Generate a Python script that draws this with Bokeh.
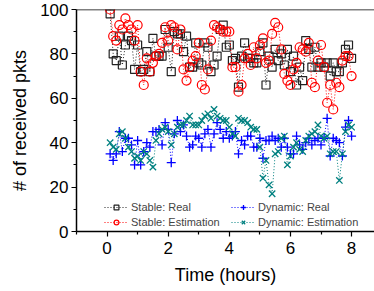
from bokeh.plotting import figure
from bokeh.models import Range1d, Span, Legend, LegendItem, FixedTicker
from bokeh.embed import file_html
from bokeh.resources import INLINE

time = [0.1, 0.2, 0.3, 0.4, 0.5, 0.6, 0.7, 0.8, 0.9, 1.0,
        1.1, 1.2, 1.3, 1.4, 1.5, 1.6, 1.7, 1.8, 1.9, 2.0,
        2.1, 2.2, 2.3, 2.4, 2.5, 2.6, 2.7, 2.8, 2.9, 3.0,
        3.1, 3.2, 3.3, 3.4, 3.5, 3.6, 3.7, 3.8, 3.9, 4.0,
        4.1, 4.2, 4.3, 4.4, 4.5, 4.6, 4.7, 4.8, 4.9, 5.0,
        5.1, 5.2, 5.3, 5.4, 5.5, 5.6, 5.7, 5.8, 5.9, 6.0,
        6.1, 6.2, 6.3, 6.4, 6.5, 6.6, 6.7, 6.8, 6.9, 7.0,
        7.1, 7.2, 7.3, 7.4, 7.5, 7.6, 7.7, 7.8, 7.9, 8.0]

stable_real = [98, 80, 77, 88, 75, 84, 88, 86, 73, 84,
               72, 73, 81, 72, 87, 79, 79, 79, 91, 83,
               72, 90, 89, 89, 81, 88, 74, 74, 85, 76,
               75, 85, 83, 72, 75, 79, 91, 93, 83, 84,
               77, 78, 65, 79, 85, 78, 78, 76, 76, 81,
               85, 66, 79, 74, 82, 77, 80, 75, 82, 72,
               79, 66, 74, 68, 86, 82, 74, 83, 74, 76,
               74, 76, 70, 76, 72, 72, 76, 82, 84, 78]

stable_est = [100, 88, 86, 93, 91, 96, 93, 91, 86, 93,
              72, 66, 78, 72, 76, 79, 80, 85, 92, 86,
              93, 92, 82, 91, 73, 68, 74, 77, 79, 85,
              66, 64, 73, 86, 93, 92, 91, 90, 90, 90,
              74, 74, 63, 66, 78, 80, 75, 83, 78, 84,
              87, 76, 77, 89, 94, 92, 82, 71, 68, 66,
              73, 76, 83, 82, 81, 85, 67, 65, 77, 84,
              74, 58, 66, 55, 67, 65, 77, 79, 79, 70]

dynamic_real = [35, 32, 35, 45, 36, 42, 42, 39, 30, 41,
                30, 36, 40, 38, 45, 45, 46, 39, 49, 46,
                31, 44, 50, 45, 48, 43, 38, 39, 43, 42,
                38, 44, 46, 38, 44, 49, 46, 42, 45, 42,
                43, 45, 35, 41, 39, 43, 43, 38, 38, 42,
                33, 41, 41, 43, 41, 42, 38, 42, 38, 35,
                35, 43, 39, 37, 40, 42, 39, 41, 42, 39,
                42, 51, 34, 42, 41, 40, 34, 47, 50, 43]

dynamic_est = [40, 38, 37, 44, 45, 42, 38, 36, 33, 34,
               32, 36, 35, 32, 29, 41, 44, 46, 47, 45,
               39, 44, 47, 48, 48, 50, 52, 48, 48, 48,
               50, 52, 53, 51, 55, 52, 51, 50, 50, 47,
               44, 43, 51, 50, 50, 49, 47, 46, 46, 38,
               24, 32, 21, 17, 35, 36, 42, 43, 30, 34,
               38, 40, 37, 36, 41, 43, 44, 45, 48, 43,
               42, 43, 35, 36, 36, 23, 35, 45, 48, 47]

labels = ["Stable: Real", "Stable: Estimation", "Dynamic: Real", "Dynamic: Estimation"]
x_ticks = [0, 2, 4, 6, 8]
y_ticks = [0, 20, 40, 60, 80, 100]

FONT = "Liberation Sans"

p = figure(width=374, height=291, x_range=Range1d(-1, 8.75), y_range=Range1d(0, 100),
           output_backend="svg", toolbar_location=None,
           min_border_left=76, min_border_right=0, min_border_top=9, min_border_bottom=60)
p.outline_line_color = None
p.grid.visible = False
p.background_fill_color = "white"

p.xaxis.ticker = FixedTicker(ticks=x_ticks, minor_ticks=[-1, 1, 3, 5, 7])
p.yaxis.ticker = FixedTicker(ticks=y_ticks, minor_ticks=[10, 30, 50, 70, 90])
for ax in (p.xaxis[0], p.yaxis[0]):
    ax.axis_line_width = 1.5
    ax.axis_line_color = "black"
    ax.major_tick_out = 5
    ax.major_tick_in = 0
    ax.minor_tick_out = 3
    ax.minor_tick_in = 0
    ax.major_tick_line_width = 1.2
    ax.minor_tick_line_width = 1.2
    ax.major_label_text_font = FONT
    ax.major_label_text_font_size = "17px"
    ax.major_label_text_color = "black"
    ax.axis_label_text_font = FONT
    ax.axis_label_text_font_size = "18px"
    ax.axis_label_text_font_style = "normal"
    ax.axis_label_text_color = "black"

p.xaxis.axis_label = "Time (hours)"
p.yaxis.axis_label = "# of received pkts"
p.yaxis.major_label_standoff = 3
p.xaxis.major_label_standoff = 5
p.xaxis.axis_label_standoff = 8
p.yaxis.axis_label_standoff = 7

p.add_layout(Span(location=100, dimension="width", line_color="black", line_width=1.5))

dash = "1 2"
l1 = p.line(time, stable_real, line_color="#222222", line_dash=dash, line_width=1)
s1 = p.scatter(time, stable_real, marker="square", size=8, fill_color=None,
               line_color="#222222", line_width=1.2)
l2 = p.line(time, stable_est, line_color="#ff0000", line_dash=dash, line_width=1)
s2 = p.scatter(time, stable_est, marker="circle", size=9, fill_color=None,
               line_color="#ff0000", line_width=1.2)
l3 = p.line(time, dynamic_real, line_color="#0000ff", line_dash=dash, line_width=1)
s3 = p.scatter(time, dynamic_real, marker="cross", size=9,
               line_color="#0000ff", line_width=1.3)
l4 = p.line(time, dynamic_est, line_color="#008080", line_dash=dash, line_width=1)
s4 = p.scatter(time, dynamic_est, marker="x", size=9,
               line_color="#008080", line_width=1.3)

items = [LegendItem(label=labels[0], renderers=[l1, s1]),
         LegendItem(label=labels[1], renderers=[l2, s2]),
         LegendItem(label=labels[2], renderers=[l3, s3]),
         LegendItem(label=labels[3], renderers=[l4, s4])]
legend = Legend(items=items, ncols=2, location=(28, 3), border_line_color=None,
                background_fill_alpha=0, label_text_font=FONT, label_text_font_size="11px",
                glyph_width=24, glyph_height=12, label_standoff=3, spacing=3,
                padding=2, margin=0, label_height=12, label_width=97)
p.add_layout(legend)

open("out.html", "w").write(file_html(p, INLINE))
